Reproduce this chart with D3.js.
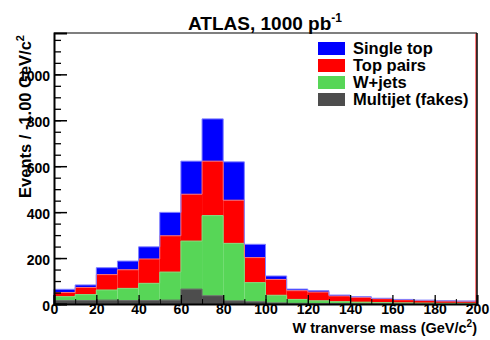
<!DOCTYPE html>
<html>
<head>
<meta charset="utf-8">
<script src="https://cdn.jsdelivr.net/npm/d3@7/dist/d3.min.js"></script>
<style>
  html, body { margin: 0; padding: 0; background: #fff; }
  svg { display: block; font-family: "Liberation Sans", Arial, sans-serif; font-weight: bold; }
</style>
</head>
<body>
<svg id="chart" width="490" height="340"></svg>
<script>
// W transverse mass, 10 GeV/c^2 bins from 0 to 200
const binEdges = d3.range(0, 200, 10);
const binWidth = 10;

// Events per bin for each process (drawn stacked, bottom to top)
const multijet  = [15, 15, 17, 15, 15, 17, 65, 36, 14, 10, 5, 3, 2, 2, 1, 1, 1, 1, 1, 1];
const wjets     = [17, 26, 44, 53, 75, 122, 209, 349, 250, 83, 33, 17, 12, 8, 7, 5, 4, 3, 2, 2];
const topPairs  = [18, 31, 67, 81, 106, 158, 204, 237, 188, 109, 69, 38, 38, 25, 21, 17, 13, 11, 10, 9];
const singleTop = [14, 11, 30, 38, 53, 102, 144, 184, 167, 58, 15, 7, 6, 4, 3, 2, 2, 2, 1, 1];

const seriesKeys   = ["multijet", "wjets", "topPairs", "singleTop"];
const seriesLabels = ["Multijet (fakes)", "W+jets", "Top pairs", "Single top"];
const seriesFill   = ["#4d4d4d", "#57d657", "#ff0000", "#0000ff"];
const seriesEdge   = ["#6a6a6a", "#7fe07f", "#ff7070", "#8080ff"];

const xTicks = d3.range(0, 201, 20);
const yTicks = d3.range(0, 1001, 200);

const rows = binEdges.map((lo, i) => ({
  lo,
  multijet: multijet[i], wjets: wjets[i], topPairs: topPairs[i], singleTop: singleTop[i]
}));

const svg = d3.select("#chart");
const frame = { left: 54, right: 477, top: 33, bottom: 304 };

const x = d3.scaleLinear().domain([0, 200]).range([frame.left, frame.right]);
const y = d3.scaleLinear().domain([0, 1180]).range([frame.bottom, frame.top]);

const layers = d3.stack().keys(seriesKeys)(rows);

// stacked histogram fills
layers.forEach((layer, k) => {
  svg.append("g")
    .selectAll("rect")
    .data(layer)
    .join("rect")
    .attr("x", d => x(d.data.lo))
    .attr("width", d => x(d.data.lo + binWidth) - x(d.data.lo))
    .attr("y", d => y(d[1]))
    .attr("height", d => y(d[0]) - y(d[1]))
    .attr("fill", seriesFill[k]);
});

// histogram outlines (top step of each stacked layer)
const stepLine = d3.line().x(p => p[0]).y(p => p[1]);
layers.forEach((layer, k) => {
  const pts = [[x(0), y(0)]];
  layer.forEach(d => {
    pts.push([x(d.data.lo), y(d[1])]);
    pts.push([x(d.data.lo + binWidth), y(d[1])]);
  });
  pts.push([x(200), y(0)]);
  svg.append("path")
    .attr("d", stepLine(pts))
    .attr("fill", "none")
    .attr("stroke", seriesEdge[k])
    .attr("stroke-width", 1);
});

// right-hand edge line of the top-pairs histogram
svg.append("line")
  .attr("x1", x(200) - 1).attr("x2", x(200) - 1)
  .attr("y1", frame.top).attr("y2", frame.bottom)
  .attr("stroke", "#ff0000").attr("stroke-width", 1);

// frame top and right
svg.append("line")
  .attr("x1", frame.left).attr("x2", frame.right)
  .attr("y1", frame.top).attr("y2", frame.top)
  .attr("stroke", "#555").attr("stroke-width", 1.5);
svg.append("line")
  .attr("x1", frame.right).attr("x2", frame.right)
  .attr("y1", frame.top).attr("y2", frame.bottom)
  .attr("stroke", "#000").attr("stroke-width", 1.5);

// x axis: major ticks every 20, minor every 10, pointing inward
const xAxisG = svg.append("g").attr("transform", `translate(0,${frame.bottom})`);
xAxisG.append("g")
  .call(d3.axisBottom(x).tickValues(d3.range(0, 201, 10)).tickSize(-5).tickFormat(""))
  .call(g => g.select(".domain").remove());
xAxisG.append("g")
  .call(d3.axisBottom(x).tickValues(xTicks).tickSize(-9).tickPadding(0).tickFormat(d3.format("d")))
  .call(g => g.select(".domain").attr("stroke-width", 2))
  .call(g => g.selectAll("text").attr("font-size", 14).attr("font-weight", "bold").attr("fill", "#000")
    .attr("font-family", "Liberation Sans, Arial, sans-serif"))
  .call(g => g.selectAll(".tick line").attr("stroke-width", 1.3));

// y axis: major ticks every 200, minor every 50
const yAxisG = svg.append("g").attr("transform", `translate(${frame.left},0)`);
yAxisG.append("g")
  .call(d3.axisLeft(y).tickValues(d3.range(0, 1151, 50)).tickSize(-7).tickFormat(""))
  .call(g => g.select(".domain").remove())
  .call(g => g.selectAll(".tick line").attr("stroke-width", 1.3));
yAxisG.append("g")
  .call(d3.axisLeft(y).tickValues(yTicks).tickSize(-13).tickPadding(4).tickFormat(d3.format("d")))
  .call(g => g.select(".domain").attr("stroke-width", 2))
  .call(g => g.selectAll("text").attr("font-size", 14).attr("font-weight", "bold").attr("fill", "#000")
    .attr("dy", "0.45em").attr("font-family", "Liberation Sans, Arial, sans-serif"))
  .call(g => g.selectAll(".tick line").attr("stroke-width", 1.5));

// axis titles
const xTitle = svg.append("text")
  .attr("x", frame.right).attr("y", 333)
  .attr("text-anchor", "end").attr("font-size", 14.5);
xTitle.append("tspan").text("W tranverse mass (GeV/c");
xTitle.append("tspan").attr("font-size", 10).attr("dy", -6).text("2");
xTitle.append("tspan").attr("dy", 6).text(")");

const yTitle = svg.append("text")
  .attr("transform", `translate(31,${frame.top + 2}) rotate(-90)`)
  .attr("text-anchor", "end").attr("font-size", 16.5);
yTitle.append("tspan").text("Events / -1.00 GeV/c");
yTitle.append("tspan").attr("font-size", 11).attr("dy", -7).text("2");

// chart title
const title = svg.append("text")
  .attr("x", 265).attr("y", 30)
  .attr("text-anchor", "middle").attr("font-size", 19);
title.append("tspan").text("ATLAS, 1000 pb");
title.append("tspan").attr("font-size", 12).attr("dy", -8).text("-1");

// legend (top of the stack listed first)
const legendOrder = [3, 2, 1, 0];
const legend = svg.append("g").attr("transform", "translate(318,42)");
legendOrder.forEach((k, i) => {
  const row = legend.append("g").attr("transform", `translate(0,${i * 17})`);
  row.append("rect").attr("width", 27).attr("height", 13).attr("fill", seriesFill[k]);
  row.append("text").attr("x", 35).attr("y", 12).attr("font-size", 16.5).text(seriesLabels[k]);
});
</script>
</body>
</html>
